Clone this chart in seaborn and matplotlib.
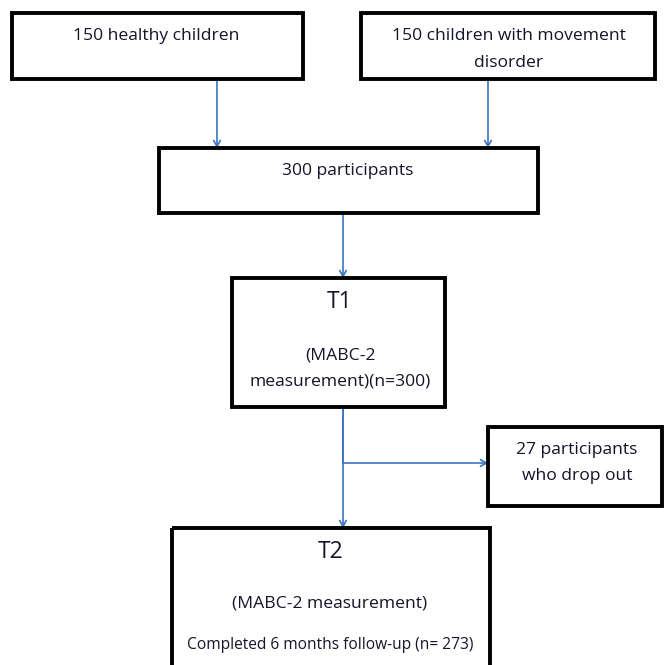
import matplotlib
matplotlib.use("Agg")
import matplotlib.pyplot as plt
import seaborn as sns
from matplotlib.patches import Rectangle

sns.set_theme(style="white")
plt.rcParams['font.family'] = ['Open Sans', 'DejaVu Sans']

# ---- content ----
box_names = ["healthy", "disorder", "all", "t1", "dropout", "t2"]
box_texts = {
    "healthy": ["150 healthy children"],
    "disorder": ["150 children with movement", "disorder"],
    "all": ["300 participants"],
    "t1": ["T1", "(MABC-2", "measurement)(n=300)"],
    "dropout": ["27 participants", "who drop out"],
    "t2": ["T2", "(MABC-2 measurement)", "Completed 6 months follow-up (n= 273)"],
}

# ---- layout (pixel coords, y downward) ----
W, H = 664, 665
boxes = {  # x0, y0, x1, y1
    "healthy": (12, 13, 303, 79),
    "disorder": (361, 13, 655, 79),
    "all": (159, 148, 538, 213),
    "t1": (232, 278, 445, 407),
    "dropout": (488, 427, 662, 506),
    "t2": (172, 528, 490, 680),
}
text_pos = {  # list of (x, y, fontsize)
    "healthy": [(156, 36, 12.6)],
    "disorder": [(509, 36, 12.6), (509, 63, 12.6)],
    "all": [(348, 171, 12.6)],
    "t1": [(340, 302, 16.5), (340, 356, 12.6), (340, 382, 12.6)],
    "dropout": [(577, 450, 12.6), (577, 476, 12.6)],
    "t2": [(331, 552, 16.5), (330, 603, 12.6), (330, 645, 11.2)],
}

fig = plt.figure(figsize=(W / 100, H / 100), dpi=100)
ax = fig.add_axes([0, 0, 1, 1])
ax.set_xlim(0, W)
ax.set_ylim(H, 0)
ax.axis("off")

text_color = "#14142a"
arrow_color = "#3a74c0"

for name in box_names:
    x0, y0, x1, y1 = boxes[name]
    ax.add_patch(Rectangle((x0, y0), x1 - x0, y1 - y0, fill=False,
                           edgecolor="black", linewidth=2.8, zorder=2))
    for line, (tx, ty, fs) in zip(box_texts[name], text_pos[name]):
        ax.text(tx, ty, line, ha="center", va="center", fontsize=fs,
                color=text_color, zorder=3)

arrow_kw = dict(arrowstyle="->,head_length=0.35,head_width=0.2",
                color=arrow_color, lw=1.2, shrinkA=0, shrinkB=0)

def arrow(x0, y0, x1, y1):
    ax.annotate("", xy=(x1, y1), xytext=(x0, y0), arrowprops=arrow_kw, zorder=1)

arrow(217, 79, 217, 148)
arrow(488, 79, 488, 148)
arrow(343, 213, 343, 278)
arrow(343, 407, 343, 528)
ax.plot([343, 343], [407, 463], color=arrow_color, lw=1.2, zorder=1)
arrow(343, 463, 488, 463)

fig.savefig("out.png", dpi=100, facecolor="white")
